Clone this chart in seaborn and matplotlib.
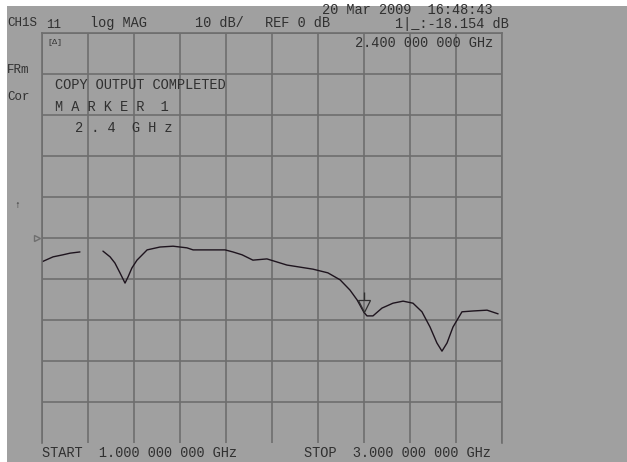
import matplotlib
matplotlib.use("Agg")
import matplotlib.pyplot as plt
import pandas as pd
import seaborn as sns
from matplotlib.patches import Rectangle
from matplotlib.transforms import offset_copy, blended_transform_factory

# S11 trace (log MAG, dB)
freq_ghz = [1.000, 1.048, 1.091, 1.122, 1.165,
            1.265, 1.296, 1.317, 1.339, 1.361, 1.374, 1.391, 1.413, 1.457,
            1.513, 1.570, 1.630, 1.657, 1.796, 1.830, 1.870, 1.917, 1.978,
            2.065, 2.178, 2.243, 2.296, 2.339, 2.370, 2.400, 2.413, 2.439,
            2.478, 2.526, 2.570, 2.613, 2.652, 2.687, 2.717, 2.739, 2.761,
            2.787, 2.826, 2.874, 2.935, 2.983]
s11_db = [-5.8, -4.6, -4.1, -3.7, -3.4,
          -3.2, -4.6, -6.1, -8.5, -11.0, -9.5, -7.3, -5.4, -2.9,
          -2.2, -2.0, -2.4, -2.9, -2.9, -3.4, -4.1, -5.4, -5.1,
          -6.6, -7.6, -8.5, -10.2, -12.7, -15.1, -18.154, -19.0, -19.0,
          -17.1, -15.9, -15.4, -15.9, -18.0, -21.7, -25.6, -27.6, -25.6,
          -21.7, -18.0, -17.8, -17.6, -18.5]
# trace has a drop-out between 1.165 and 1.265 GHz
segment = [0] * 5 + [1] * 41

marker_freq = 2.4
marker_db = -18.154

x_grid = [1.0, 1.2, 1.4, 1.6, 1.8, 2.0, 2.2, 2.4, 2.6, 2.8, 3.0]
y_grid = [-40, -30, -20, -10, 0, 10, 20, 30, 40, 50]

BG = "#a0a0a0"
GRID = "#6e6e6e"
INK = "#303030"
TRACE = "#1e141e"

sns.set_theme(style="white")
plt.rcParams["font.family"] = ["Liberation Mono", "DejaVu Sans Mono", "DejaVu Sans"]

W, H = 627, 462
fig = plt.figure(figsize=(W / 100, H / 100), dpi=100)
fig.patch.set_facecolor("white")
fig.add_artist(Rectangle((7 / W, 0), 1, (H - 6) / H, transform=fig.transFigure,
                         facecolor=BG, edgecolor="none", zorder=-5))

ax = fig.add_axes([42 / W, 19 / H, 460 / W, 410 / H])
ax.set_facecolor(BG)
ax.set_xlim(1.0, 3.0)
ax.set_ylim(-50, 50)
ax.set_xticks(x_grid)
ax.set_yticks(y_grid)
ax.grid(True, color=GRID, lw=1.2)
ax.tick_params(length=0, labelbottom=False, labelleft=False)
for side in ["left", "right", "top"]:
    ax.spines[side].set_color(GRID)
    ax.spines[side].set_linewidth(1.2)
ax.spines["bottom"].set_visible(False)

df = pd.DataFrame({"freq": freq_ghz, "db": s11_db, "seg": segment})
sns.lineplot(data=df, x="freq", y="db", units="seg", estimator=None,
             color=TRACE, lw=1.0, ax=ax, legend=False)
ax.set_xlabel("")
ax.set_ylabel("")

# marker 1 (open triangle pointing at the trace)
tri = offset_copy(ax.transData, fig=fig, x=0, y=4.5, units="points")
ax.plot([marker_freq], [marker_db], marker="v", ms=8, mfc="none", mec=INK,
        mew=0.9, transform=tri, clip_on=False)
stick = offset_copy(ax.transData, fig=fig, x=0, y=12, units="points")
ax.plot([marker_freq], [marker_db], marker="|", ms=6, mec=INK, mew=1.0,
        transform=stick, clip_on=False)

# reference position pointer
ref_tr = blended_transform_factory(ax.transAxes, ax.transData)
ax.plot([-0.01], [0], marker=">", ms=4, mfc="none", mec=GRID, mew=1.0,
        transform=ref_tr, clip_on=False)


def scr(x, y, s, size=9.8, **kw):
    # place screen text by pixel position (left edge, vertical centre)
    fig.text(x / W, 1 - y / H, s, ha="left", va="center", fontsize=size,
             color=INK, **kw)


scr(322, 10, "20 Mar 2009  16:48:43")
scr(7, 23, "CH1S", size=9)
scr(46, 25, "11", size=9)
scr(90, 23, "log MAG")
scr(195, 23, "10 dB/")
scr(265, 23, "REF 0 dB")
scr(395, 24, "1|_:-18.154 dB")
scr(47, 42, "[Δ]", size=6)
scr(355, 43, "2.400 000 000 GHz")
scr(7, 70, "FRm", size=9)
scr(55, 85, "COPY OUTPUT COMPLETED")
scr(7, 97, "Cor", size=9)
scr(55, 107, "M A R K E R  1")
scr(75, 128, "2 . 4  G H z")
scr(14, 205, "↑", size=7)
scr(42, 453, "START  1.000 000 000 GHz")
scr(304, 453, "STOP  3.000 000 000 GHz")

fig.savefig("out.png", dpi=100, facecolor="white")
